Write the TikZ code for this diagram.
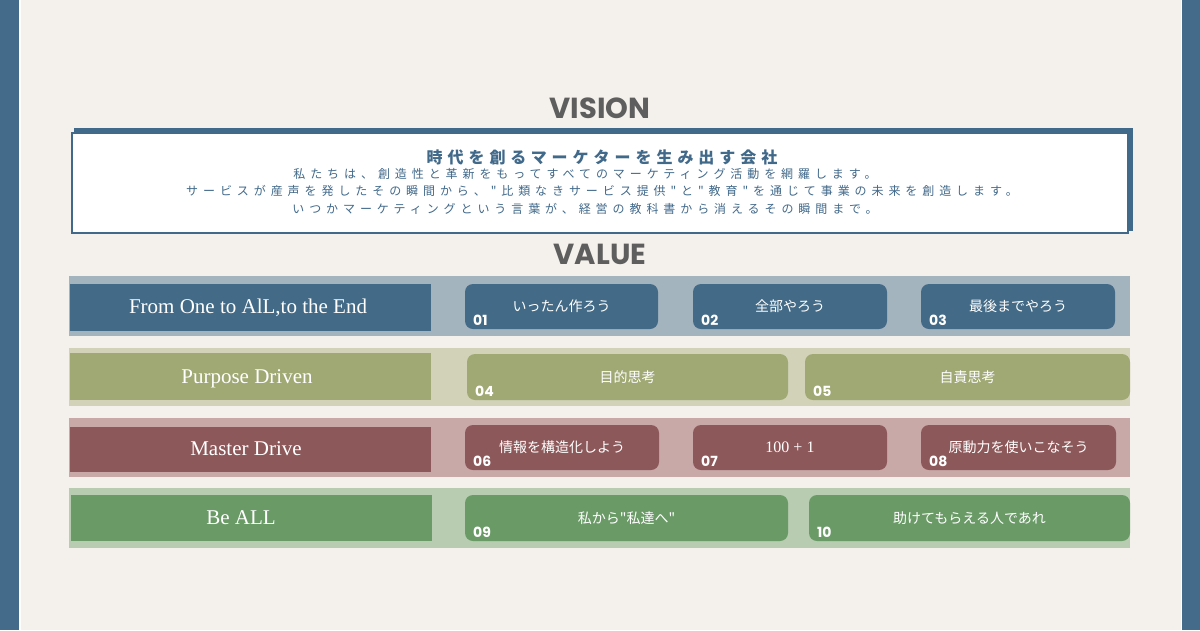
\documentclass[tikz,border=0pt]{standalone}
\usepackage{fontspec}
\setmainfont{Liberation Serif}
\newfontfamily\jp{Noto Sans CJK JP}
\newfontfamily\gothic{Poppins}
\definecolor{bg}{HTML}{F4F1EC}
\definecolor{side}{HTML}{446B8A}
\definecolor{vis}{HTML}{41698A}
\definecolor{head}{HTML}{5E5E5E}
\definecolor{aband}{HTML}{A3B4BF}\definecolor{adark}{HTML}{436A86}
\definecolor{bband}{HTML}{D1D2B7}\definecolor{bdark}{HTML}{A0A874}
\definecolor{cband}{HTML}{C8A9A7}\definecolor{cdark}{HTML}{8D585A}
\definecolor{dband}{HTML}{B7CCB0}\definecolor{ddark}{HTML}{6A9B67}
\tikzset{
  headtxt/.style={font=\gothic\bfseries\fontsize{29}{32}\selectfont, text=head, inner sep=0},
  bandbox/.style={draw=none, inner sep=0, anchor=north west},
  leftbox/.style={draw=none, inner sep=0, anchor=north west},
  lefttxt/.style={text=white, font=\fontsize{21}{24}\selectfont, inner sep=0, anchor=base},
  pillbox/.style={draw=none, inner sep=0, rounded corners=8pt, text=white, font=\jp\fontsize{14}{16}\selectfont},
  numtxt/.style={font=\gothic\bfseries\fontsize{14}{16}\selectfont, text=white, inner sep=0, anchor=base west},
  bodytxt/.style={inner sep=0, text=vis, font=\jp\fontsize{12}{14}\selectfont\addfontfeature{LetterSpace=41}},
}
% #1 name, #2 x1, #3 y1, #4 x2, #5 y2, #6 colour, #7 text, #8 number
\newcommand\mypill[8]{%
  \node[pillbox, fill=#6, minimum width={#4-#2}, minimum height={#5-#3}] (#1) at ({(#2+#4)/2},{(#3+#5)/2}) {#7};
  \node[numtxt] (#1n) at ({#2+8},{#5-3.5}) {#8};
}
\begin{document}
\begin{tikzpicture}[x=1pt,y=-1pt]
\useasboundingbox (0,0) rectangle (1200,630);
\fill[bg] (0,0) rectangle (1200,630);
% side bands
\fill[side] (0,0) rectangle (19,630);
\fill[white] (19,0) rectangle (20.5,630);
\fill[white] (1180.5,0) rectangle (1182,630);
\fill[side] (1182,0) rectangle (1200,630);
% VISION
\node[headtxt] (vision) at (600,108) {VISION};
\fill[vis] (74,128) rectangle (1133,231);
\node[draw=vis, line width=2pt, fill=white, minimum width=1056, minimum height=100, inner sep=0] (visbox) at (600,183) {};
\node[inner sep=0, text=vis, font=\jp\bfseries\fontsize{16}{18}\selectfont\addfontfeature{LetterSpace=31}] (vt) at (602,157) {時代を創るマーケターを生み出す会社};
\node[bodytxt] (v1) at (585,174) {私たちは、創造性と革新をもってすべてのマーケティング活動を網羅します。};
\node[bodytxt] (v2) at (602,191) {サービスが産声を発したその瞬間から、"比類なきサービス提供"と"教育"を通じて事業の未来を創造します。};
\node[bodytxt] (v3) at (585,209) {いつかマーケティングという言葉が、経営の教科書から消えるその瞬間まで。};
% VALUE
\node[headtxt] (value) at (600,254) {VALUE};
% Row A
\node[bandbox, fill=aband, minimum width=1061, minimum height=60] (bandA) at (69,276) {};
\node[leftbox, fill=adark, minimum width=361, minimum height=47] (leftA) at (70,284) {};
\node[lefttxt] (leftAt) at (248,313) {From One to AlL,to the End};
\mypill{p01}{465}{284}{658}{329}{adark}{いったん作ろう}{01}
\mypill{p02}{693}{284}{887}{329}{adark}{全部やろう}{02}
\mypill{p03}{921}{284}{1115}{329}{adark}{最後までやろう}{03}
% Row B
\node[bandbox, fill=bband, minimum width=1061, minimum height=58] (bandB) at (69,348) {};
\node[leftbox, fill=bdark, minimum width=361, minimum height=47] (leftB) at (70,353) {};
\node[lefttxt] (leftBt) at (247,383) {Purpose Driven};
\mypill{p04}{467}{354}{788}{400}{bdark}{目的思考}{04}
\mypill{p05}{805}{354}{1130}{400}{bdark}{自責思考}{05}
% Row C
\node[bandbox, fill=cband, minimum width=1061, minimum height=59] (bandC) at (69,418) {};
\node[leftbox, fill=cdark, minimum width=361, minimum height=45] (leftC) at (70,427) {};
\node[lefttxt] (leftCt) at (246,455) {Master Drive};
\mypill{p06}{465}{425}{659}{470}{cdark}{情報を構造化しよう}{06}
\mypill{p07}{693}{425}{887}{470}{cdark}{\rmfamily\fontsize{16}{18}\selectfont 100 + 1}{07}
\mypill{p08}{921}{425}{1116}{470}{cdark}{原動力を使いこなそう}{08}
% Row D
\node[bandbox, fill=dband, minimum width=1061, minimum height=60] (bandD) at (69,488) {};
\node[leftbox, fill=ddark, minimum width=361, minimum height=46] (leftD) at (71,495) {};
\node[lefttxt] (leftDt) at (241,524) {Be ALL};
\mypill{p09}{465}{495}{788}{541}{ddark}{私から"私達へ"}{09}
\mypill{p10}{809}{495}{1130}{541}{ddark}{助けてもらえる人であれ}{10}
\end{tikzpicture}
\end{document}
